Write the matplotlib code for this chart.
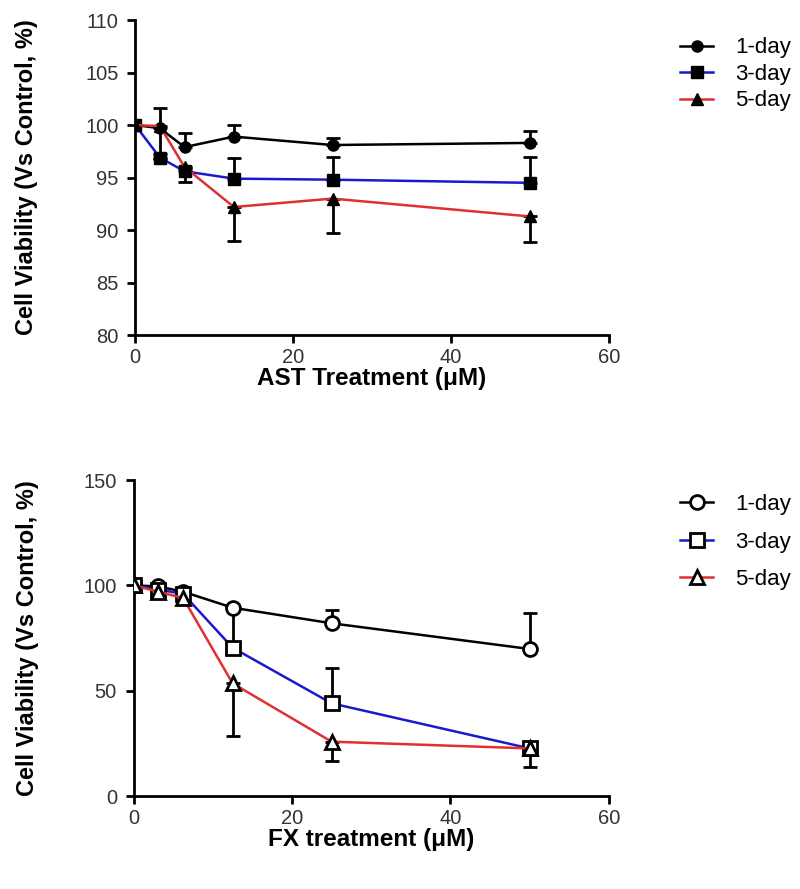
import matplotlib
matplotlib.use("Agg")
import matplotlib.pyplot as plt
import numpy as np

plt.rcParams['font.family'] = ['Liberation Sans', 'DejaVu Sans']

conc = [0, 3.125, 6.25, 12.5, 25, 50]
labels = ["1-day", "3-day", "5-day"]
colors = ["#000000", "#1a1acc", "#e03030"]

# AST (top)
ast_mean = {
    "1-day": [100, 99.7, 97.9, 98.9, 98.1, 98.3],
    "3-day": [100, 96.9, 95.6, 94.9, 94.8, 94.5],
    "5-day": [100, 99.9, 96.0, 92.2, 93.0, 91.3],
}
ast_err = {
    "1-day": [0, 1.9, 1.3, 1.1, 0.7, 1.1],
    "3-day": [0, 0.3, 0.3, 2.0, 2.2, 2.5],
    "5-day": [0, 3.1, 1.4, 3.2, 3.3, 2.4],
}
# FX (bottom)
fx_mean = {
    "1-day": [100, 99.5, 97.0, 89.4, 82.0, 69.8],
    "3-day": [100, 98.0, 96.0, 70.4, 44.0, 22.6],
    "5-day": [100, 97.0, 94.0, 53.5, 25.8, 22.6],
}
fx_err = {
    "1-day": [0, 1.0, 1.0, 1.5, 6.3, 17.0],
    "3-day": [0, 1.0, 1.0, 19.0, 16.6, 2.0],
    "5-day": [0, 1.0, 1.0, 25.0, 9.0, 9.0],
}
# error direction: +1 above, -1 below
err_dir = {"1-day": 1, "3-day": 1, "5-day": -1}

fig = plt.figure(figsize=(8, 8.89), dpi=100)
ax1 = fig.add_axes([0.169, 0.623, 0.592, 0.3545])
ax2 = fig.add_axes([0.167, 0.1046, 0.594, 0.3554])

def style(ax, ylim, yticks, xlabel, ylx):
    ax.set_xlim(0, 60)
    ax.set_ylim(*ylim)
    ax.set_xticks([0, 20, 40, 60])
    ax.set_yticks(yticks)
    for s in ["top", "right"]:
        ax.spines[s].set_visible(False)
    for s in ["left", "bottom"]:
        ax.spines[s].set_linewidth(2)
    ax.tick_params(direction="out", length=6, width=2, labelsize=14.5,
                   labelcolor="#333333")
    ax.tick_params(axis="y", pad=6)
    ax.tick_params(axis="x", pad=3)
    ax.set_ylabel("Cell Viability (Vs Control, %)", fontsize=17,
                  fontweight="bold")
    ax.yaxis.set_label_coords(ylx, 0.5)
    ax.set_xlabel(xlabel, fontsize=17.5, fontweight="bold", labelpad=0)

markers_top = ["o", "s", "^"]
handles = []
for lab, col, mk in zip(labels, colors, markers_top):
    m = np.array(ast_mean[lab]); e = np.array(ast_err[lab])
    d = err_dir[lab]
    yerr = [np.zeros_like(e), e] if d > 0 else [e, np.zeros_like(e)]
    ax1.errorbar(conc, m, yerr=yerr, fmt="none", ecolor="black",
                 elinewidth=2, capsize=5, capthick=2, zorder=2)
    h, = ax1.plot(conc, m, color=col, lw=1.8, marker=mk, ms=8,
                  mfc="black", mec="black", zorder=3, label=lab)
    handles.append(h)
style(ax1, (80, 110), [80, 85, 90, 95, 100, 105, 110], "AST Treatment (\u03bcM)", -0.205)
fig.legend(handles=handles, labels=labels, loc="upper left",
           bbox_to_anchor=(0.85, 0.958), frameon=False, fontsize=16,
           handlelength=1.5, handletextpad=1.0, labelspacing=0.25,
           borderpad=0, borderaxespad=0)

handles2 = []
for lab, col, mk in zip(labels, colors, markers_top):
    m = np.array(fx_mean[lab]); e = np.array(fx_err[lab])
    d = err_dir[lab]
    yerr = [np.zeros_like(e), e] if d > 0 else [e, np.zeros_like(e)]
    ax2.errorbar(conc, m, yerr=yerr, fmt="none", ecolor="black",
                 elinewidth=2, capsize=5, capthick=2, zorder=2)
    h, = ax2.plot(conc, m, color=col, lw=1.8, marker=mk, ms=10,
                  mfc="white", mec="black", mew=2, zorder=3, label=lab)
    handles2.append(h)
style(ax2, (0, 150), [0, 50, 100, 150], "FX treatment (\u03bcM)", -0.2)
fig.legend(handles=handles2, labels=labels, loc="upper left",
           bbox_to_anchor=(0.85, 0.4445), frameon=False, fontsize=16,
           handlelength=1.5, handletextpad=1.0, labelspacing=0.75,
           borderpad=0, borderaxespad=0)

fig.savefig("out.png", dpi=100)
